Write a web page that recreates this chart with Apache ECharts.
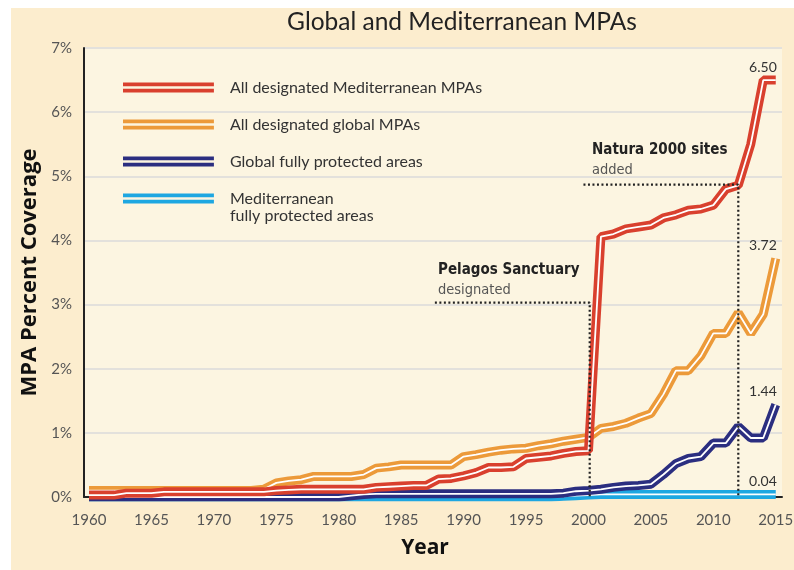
<!DOCTYPE html>
<html>
<head>
<meta charset="utf-8">
<title>Global and Mediterranean MPAs</title>
<script src="https://cdn.jsdelivr.net/npm/echarts@6/dist/echarts.min.js"></script>
<style>
  html, body { margin: 0; padding: 0; background: #fff; }
  #chart { width: 794px; height: 570px; }
</style>
</head>
<body>
<div id="chart"></div>
<script>
// years on the x axis, one point per year
const years = [
  1960, 1961, 1962, 1963, 1964, 1965, 1966, 1967, 1968, 1969,
  1970, 1971, 1972, 1973, 1974, 1975, 1976, 1977, 1978, 1979,
  1980, 1981, 1982, 1983, 1984, 1985, 1986, 1987, 1988, 1989,
  1990, 1991, 1992, 1993, 1994, 1995, 1996, 1997, 1998, 1999,
  2000, 2001, 2002, 2003, 2004, 2005, 2006, 2007, 2008, 2009,
  2010, 2011, 2012, 2013, 2014, 2015
];
const xTicks = [1960, 1965, 1970, 1975, 1980, 1985, 1990, 1995, 2000, 2005, 2010, 2015];

// percent coverage
const medAll = [
  0.03, 0.03, 0.03, 0.06, 0.06, 0.06, 0.08, 0.08, 0.08, 0.08,
  0.08, 0.08, 0.08, 0.08, 0.08, 0.10, 0.11, 0.12, 0.12, 0.12,
  0.12, 0.12, 0.12, 0.15, 0.16, 0.17, 0.18, 0.18, 0.28, 0.29,
  0.33, 0.38, 0.46, 0.46, 0.47, 0.60, 0.62, 0.64, 0.68, 0.71,
  0.72, 4.06, 4.10, 4.18, 4.21, 4.24, 4.35, 4.40, 4.47, 4.49,
  4.55, 4.80, 4.86, 5.50, 6.50, 6.50
];
const globalAll = [
  0.10, 0.10, 0.10, 0.10, 0.10, 0.10, 0.10, 0.10, 0.10, 0.10,
  0.10, 0.10, 0.10, 0.10, 0.12, 0.22, 0.25, 0.27, 0.32, 0.32,
  0.32, 0.32, 0.35, 0.45, 0.47, 0.50, 0.50, 0.50, 0.50, 0.50,
  0.63, 0.66, 0.70, 0.73, 0.75, 0.76, 0.80, 0.83, 0.87, 0.90,
  0.93, 1.07, 1.10, 1.15, 1.23, 1.30, 1.60, 1.97, 1.97, 2.20,
  2.55, 2.55, 2.87, 2.55, 2.85, 3.72
];
const globalFull = [
  0.00, 0.00, 0.00, 0.00, 0.00, 0.00, 0.00, 0.00, 0.00, 0.00,
  0.00, 0.00, 0.00, 0.00, 0.00, 0.00, 0.00, 0.00, 0.00, 0.00,
  0.00, 0.02, 0.04, 0.05, 0.05, 0.05, 0.05, 0.05, 0.05, 0.05,
  0.05, 0.05, 0.05, 0.05, 0.05, 0.05, 0.05, 0.05, 0.06, 0.09,
  0.10, 0.12, 0.15, 0.17, 0.18, 0.20, 0.35, 0.52, 0.60, 0.63,
  0.84, 0.84, 1.10, 0.92, 0.92, 1.44
];
const medFull = [
  0.00, 0.00, 0.00, 0.00, 0.00, 0.00, 0.00, 0.00, 0.00, 0.00,
  0.00, 0.00, 0.00, 0.00, 0.00, 0.00, 0.00, 0.00, 0.00, 0.00,
  0.00, 0.00, 0.00, 0.00, 0.00, 0.00, 0.00, 0.00, 0.00, 0.00,
  0.00, 0.00, 0.00, 0.00, 0.00, 0.00, 0.00, 0.00, 0.01, 0.02,
  0.03, 0.04, 0.04, 0.04, 0.04, 0.04, 0.04, 0.04, 0.04, 0.04,
  0.04, 0.04, 0.04, 0.04, 0.04, 0.04
];

// dotted guides for the two annotations, [year, percent]
const pelagosGuide = [[1987.7, 3.03], [2000.1, 3.03], [2000.1, 0]];
const naturaGuide = [[1999.6, 4.87], [2012, 4.87], [2012, 0]];

const NAMES = [
  'All designated Mediterranean MPAs',
  'All designated global MPAs',
  'Global fully protected areas',
  'Mediterranean fully protected areas'
];
const COLORS = ['#d9402e', '#ec9a3a', '#2b2e80', '#1ea7e1'];

const FONT = 'Lato';
const NARROW = '"DejaVu Sans Condensed", "Liberation Sans Narrow", "Noto Sans", sans-serif';

// each series = thick coloured line + thin white stripe on top
function doubleLine(name, vals, color) {
  const data = years.map((y, i) => [y, vals[i]]);
  return [
    {
      name, type: 'line', data, color, symbol: 'none', silent: true,
      lineStyle: { color, width: 9 },
      itemStyle: { color },
      endLabel: {
        show: true, distance: 0, align: 'right', verticalAlign: 'bottom', offset: [1, -6],
        fontFamily: FONT, fontSize: 14, color: '#333',
        formatter: p => p.value[1].toFixed(2)
      }
    },
    {
      name: name + ' stripe', type: 'line', data, symbol: 'none', silent: true,
      lineStyle: { color: '#fff', width: 1.8 }
    }
  ];
}

function guide(name, data) {
  return {
    name, type: 'line', data, symbol: 'none', silent: true, z: 5,
    lineStyle: { color: '#222', width: 2.2, type: [2, 2.5] }
  };
}

const chart = echarts.init(document.getElementById('chart'));
chart.setOption({
  animation: false,
  backgroundColor: '#fff',
  title: {
    text: 'Global and Mediterranean MPAs',
    left: 462, top: 10, textAlign: 'center', padding: 0,
    textStyle: { fontFamily: FONT, fontSize: 24.5, fontWeight: 'normal', color: '#222' }
  },
  legend: {
    orient: 'vertical', left: 118, top: 73,
    itemWidth: 97, itemHeight: 10, itemGap: 18,
    icon: 'path://M0,0H100V4H0ZM0,7H100V11H0Z',
    selectedMode: false,
    textStyle: { fontFamily: FONT, fontSize: 16, color: '#333', lineHeight: 19, padding: [0, 0, 0, 8] },
    formatter: name => name === NAMES[3] ? 'Mediterranean' : name,
    data: NAMES.map((n, i) => ({ name: n, itemStyle: { color: COLORS[i], borderWidth: 0 } }))
  },
  grid: {
    left: 84, right: 12, top: 48, bottom: 73,
    show: true, backgroundColor: '#fcf5e1', borderWidth: 0,
    outerBoundsMode: 'none'
  },
  xAxis: {
    type: 'value', min: 1959.6, max: 2015.5,
    name: 'Year', nameLocation: 'middle', nameGap: 41,
    nameTextStyle: { fontFamily: 'Open Sans', fontWeight: 700, fontSize: 21, color: '#111', padding: [0, 16, 0, 0] },
    axisLine: { show: true, lineStyle: { color: '#222', width: 2 } },
    axisTick: { show: false },
    splitLine: { show: false },
    axisLabel: {
      customValues: xTicks, margin: 16, fontFamily: FONT, fontSize: 15, color: '#555',
      formatter: v => String(v)
    }
  },
  yAxis: {
    type: 'value', min: 0, max: 7, interval: 1,
    name: 'MPA Percent Coverage', nameLocation: 'middle', nameGap: 40,
    nameTextStyle: { fontFamily: 'Open Sans', fontWeight: 700, fontSize: 22, color: '#111' },
    axisLine: { show: true, lineStyle: { color: '#222', width: 2 } },
    axisTick: { show: false },
    splitLine: { lineStyle: { color: '#e3e1dc', width: 2 } },
    axisLabel: { formatter: '{value}%', margin: 12, fontFamily: FONT, fontSize: 15, color: '#555' }
  },
  graphic: {
    elements: [
      { type: 'rect', z: -10, silent: true, shape: { x: 11, y: 8, width: 783, height: 562 }, style: { fill: '#fcedce' } },
      { type: 'text', x: 230, y: 216, style: { text: 'fully protected areas', font: '16px ' + FONT, fill: '#333', verticalAlign: 'middle' } },
      { type: 'text', x: 438, y: 270, style: { text: 'Pelagos Sanctuary', font: 'bold 15px ' + NARROW, fill: '#222', verticalAlign: 'middle' } },
      { type: 'text', x: 438, y: 290, style: { text: 'designated', font: '14.5px ' + NARROW, fill: '#555', verticalAlign: 'middle' } },
      { type: 'text', x: 592, y: 150, style: { text: 'Natura 2000 sites', font: 'bold 15px ' + NARROW, fill: '#222', verticalAlign: 'middle' } },
      { type: 'text', x: 592, y: 170, style: { text: 'added', font: '14.5px ' + NARROW, fill: '#555', verticalAlign: 'middle' } }
    ]
  },
  series: [
    ...doubleLine(NAMES[3], medFull, COLORS[3]),
    ...doubleLine(NAMES[2], globalFull, COLORS[2]),
    ...doubleLine(NAMES[1], globalAll, COLORS[1]),
    ...doubleLine(NAMES[0], medAll, COLORS[0]),
    guide('Pelagos guide', pelagosGuide),
    guide('Natura guide', naturaGuide)
  ]
});
</script>
</body>
</html>
